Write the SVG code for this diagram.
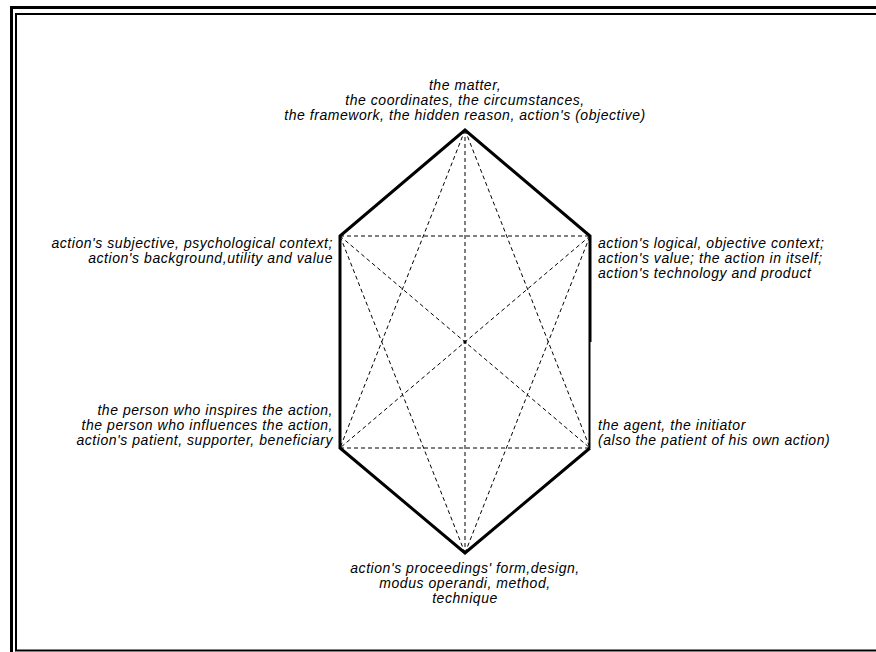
<svg xmlns="http://www.w3.org/2000/svg" width="876" height="652" viewBox="0 0 876 652">
<style>
text{font-family:"Liberation Sans",Arial,sans-serif;font-style:italic;font-size:14px;letter-spacing:0.55px;fill:#000}
.m{text-anchor:middle}.e{text-anchor:end}
.hex{fill:none;stroke:#000;stroke-width:3;stroke-linejoin:miter}
.d{stroke:#000;stroke-width:1;stroke-dasharray:4,3;fill:none}
</style>
<rect x="0" y="0" width="876" height="652" fill="#fff"/>
<g id="frame" fill="none" stroke="#000">
<rect x="11.5" y="7.5" width="880" height="660" stroke-width="3"/>
<rect x="16" y="14" width="880" height="636.5" stroke-width="2"/>
</g>
<g id="connectors">
<line class="d" x1="340" y1="236" x2="590" y2="236"/>
<line class="d" x1="340" y1="448" x2="590" y2="448"/>
<line class="d" x1="340" y1="236" x2="590" y2="448"/>
<line class="d" x1="590" y1="236" x2="340" y2="448"/>
<line class="d" x1="465" y1="130" x2="465" y2="553"/>
<line class="d" x1="465" y1="130" x2="340" y2="448"/>
<line class="d" x1="465" y1="130" x2="590" y2="448"/>
<line class="d" x1="465" y1="553" x2="340" y2="236"/>
<line class="d" x1="465" y1="553" x2="590" y2="236"/>
</g>
<g id="hexagon">
<polyline class="hex" points="590,342 590,236 465,130 340,236 340,448 465,553 590,448"/>
<line x1="589.5" y1="342" x2="589.5" y2="448" stroke="#000" stroke-width="2"/>
<rect x="463.5" y="340.5" width="3" height="3" fill="#000"/>
</g>
<g id="n-top">
<text class="m" x="465" y="90">the matter,</text>
<text class="m" x="465" y="105">the coordinates, the circumstances,</text>
<text class="m" x="465" y="120">the framework, the hidden reason, action's (objective)</text>
</g>
<g id="n-ul">
<text class="e" x="333" y="248">action's subjective, psychological context;</text>
<text class="e" x="333" y="263">action's background,utility and value</text>
</g>
<g id="n-ur">
<text x="598" y="248">action's logical, objective context;</text>
<text x="598" y="263">action's value; the action in itself;</text>
<text x="598" y="278">action's technology and product</text>
</g>
<g id="n-ll">
<text class="e" x="333" y="415">the person who inspires the action,</text>
<text class="e" x="333" y="430">the person who influences the action,</text>
<text class="e" x="333" y="445">action's patient, supporter, beneficiary</text>
</g>
<g id="n-lr">
<text x="598" y="430">the agent, the initiator</text>
<text x="598" y="445">(also the patient of his own action)</text>
</g>
<g id="n-bottom">
<text class="m" x="465" y="573">action's proceedings' form,design,</text>
<text class="m" x="465" y="588">modus operandi, method,</text>
<text class="m" x="465" y="603">technique</text>
</g>
</svg>
